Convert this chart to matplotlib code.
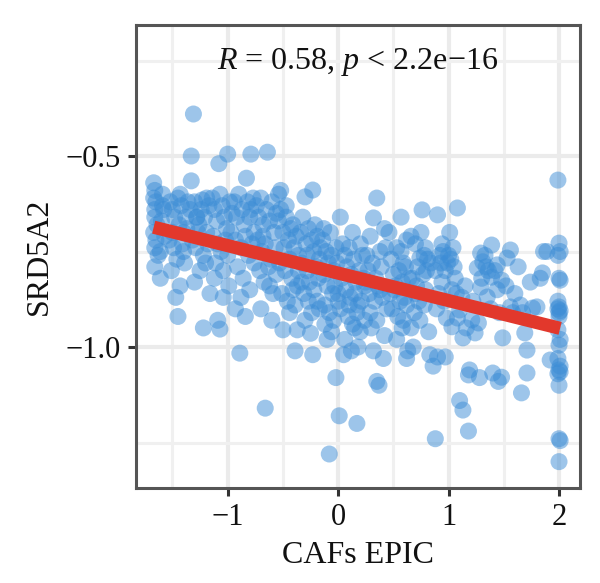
import numpy as np
import matplotlib
matplotlib.use("Agg")
import matplotlib.pyplot as plt
from matplotlib.ticker import MultipleLocator

# ---- data ----
left_x = [-1.67,-1.66,-1.67,-1.65,-1.66,-1.66,-1.64,-1.67,-1.65,-1.66,-1.63,-1.66,-1.61,-1.59,-1.58,-1.60,-1.57,-1.61,-1.59,
          -1.52,-1.50,-1.48,-1.45,-1.44,-1.42,-1.40,-1.38,-1.53,-1.49,-1.46,-1.41,-1.37,-1.51,-1.47,-1.43,-1.39,-1.36,-1.45,-1.50,-1.43,-1.40,
          -1.31,-1.33,-1.33,-1.23,-1.34,-1.30,-1.28,-1.26,-1.24,-1.21,-1.19,-1.17,-1.32,-1.29,-1.27,-1.22,-1.18,-1.25,-1.20,-1.30,-1.22,-1.16,-1.28,-1.19,
          -1.08,-1.00,-1.14,-1.12,-1.10,-1.07,-1.05,-1.03,-1.01,-0.98,-0.96,-1.13,-1.09,-1.06,-1.02,-0.97,-1.11,-1.04,-1.00,-1.09,-1.07,-1.04,-0.99,-1.12]
left_y = [-0.57,-0.59,-0.61,-0.62,-0.64,-0.66,-0.68,-0.70,-0.72,-0.74,-0.76,-0.79,-0.82,-0.60,-0.64,-0.67,-0.71,-0.75,-0.63,
          -0.62,-0.64,-0.66,-0.61,-0.68,-0.63,-0.70,-0.66,-0.72,-0.74,-0.77,-0.73,-0.69,-0.80,-0.87,-0.84,-0.78,-0.62,-0.92,-0.70,-0.60,-0.75,
          -0.39,-0.50,-0.565,-0.615,-0.64,-0.62,-0.66,-0.68,-0.64,-0.66,-0.70,-0.63,-0.72,-0.74,-0.70,-0.76,-0.73,-0.80,-0.78,-0.83,-0.95,-0.86,-0.66,-0.61,
          -0.52,-0.495,-0.61,-0.64,-0.67,-0.60,-0.63,-0.66,-0.69,-0.62,-0.65,-0.71,-0.73,-0.75,-0.72,-0.70,-0.78,-0.80,-0.76,-0.93,-0.953,-0.87,-0.84,-0.82]

midleft_x = [-0.79,-0.83,-0.89,-0.94,-0.92,-0.90,-0.87,-0.85,-0.82,-0.80,-0.77,-0.76,-0.93,-0.88,-0.84,-0.81,-0.78,-0.91,-0.86,-0.80,-0.76,-0.93,-0.84,-0.88,-0.79,
             -0.64,-0.66,-0.54,-0.74,-0.72,-0.70,-0.68,-0.65,-0.62,-0.60,-0.58,-0.56,-0.73,-0.69,-0.66,-0.61,-0.57,-0.71,-0.67,-0.63,-0.59,-0.70,-0.60,-0.68,-0.62,-0.56,
             -0.52,-0.52,-0.41,-0.50,-0.37,-0.39,-0.54,-0.50,-0.47,-0.45,-0.43,-0.40,-0.38,-0.36,-0.53,-0.48,-0.44,-0.42,-0.37,-0.51,-0.46,-0.41,-0.36,-0.49,-0.44,-0.39,-0.47,
             -0.23,-0.30,-0.21,-0.25,-0.23,-0.34,-0.32,-0.29,-0.27,-0.24,-0.22,-0.19,-0.17,-0.16,-0.33,-0.28,-0.26,-0.20,-0.18,-0.31,-0.27,-0.22,-0.17,-0.30,-0.24,-0.19,-0.33,-0.28]
midleft_y = [-0.495,-0.558,-1.016,-0.62,-0.66,-0.60,-0.64,-0.68,-0.62,-0.66,-0.61,-0.70,-0.72,-0.74,-0.71,-0.76,-0.73,-0.79,-0.82,-0.85,-0.78,-0.90,-0.92,-0.87,-0.64,
             -0.49,-1.16,-0.60,-0.63,-0.66,-0.61,-0.68,-0.64,-0.67,-0.62,-0.70,-0.65,-0.72,-0.75,-0.73,-0.77,-0.74,-0.80,-0.83,-0.79,-0.86,-0.90,-0.93,-0.71,-0.84,-0.81,
             -0.59,-0.64,-0.68,-0.955,-0.955,-1.01,-0.67,-0.70,-0.66,-0.72,-0.69,-0.74,-0.71,-0.76,-0.78,-0.80,-0.77,-0.82,-0.84,-0.86,-0.88,-0.85,-0.80,-0.74,-0.91,-0.89,-0.63,
             -0.589,-0.607,-0.68,-0.964,-1.02,-0.70,-0.66,-0.73,-0.69,-0.72,-0.75,-0.71,-0.77,-0.74,-0.78,-0.80,-0.83,-0.79,-0.82,-0.86,-0.88,-0.85,-0.90,-0.93,-0.91,-0.88,-0.83,-0.76]

mid_x = [-0.02,0.01,-0.08,0.02,-0.07,0.04,-0.12,0.05,-0.14,-0.11,-0.09,-0.06,-0.04,-0.01,0.03,-0.13,-0.10,-0.05,-0.03,0.00,-0.12,-0.08,-0.04,0.02,-0.10,-0.06,0.00,-0.02,-0.13,
         0.17,0.13,0.20,0.06,0.08,0.10,0.12,0.14,0.16,0.19,0.22,0.24,0.07,0.11,0.15,0.18,0.21,0.23,0.09,0.13,0.17,0.20,0.24,0.06,0.12,0.18,0.10,0.15,
         0.35,0.32,0.35,0.37,0.29,0.38,0.26,0.42,0.30,0.32,0.41,0.27,0.31,0.34,0.39,0.43,0.28,0.33,0.36,0.40,0.44,0.29,0.35,0.42,0.38,0.25,
         0.62,0.57,0.53,0.59,0.59,0.53,0.63,0.46,0.48,0.50,0.55,0.58,0.61,0.64,0.47,0.51,0.56,0.60,0.49,0.54,0.58,0.62,0.52,0.57]
mid_y = [-1.08,-1.18,-1.28,-0.66,-0.70,-0.73,-0.94,-1.02,-0.72,-0.75,-0.78,-0.76,-0.80,-0.78,-0.82,-0.81,-0.84,-0.86,-0.84,-0.88,-0.89,-0.91,-0.93,-0.90,-0.98,-0.96,-0.86,-0.74,-0.69,
         -1.20,-0.70,-0.73,-0.76,-0.79,-0.74,-0.81,-0.77,-0.83,-0.80,-0.76,-0.84,-0.85,-0.87,-0.86,-0.89,-0.88,-0.82,-0.92,-0.94,-0.91,-0.96,-0.93,-0.98,-1.01,-1.00,-0.89,-0.95,
         -0.61,-0.662,-1.09,-1.10,-0.71,-0.75,-0.76,-0.69,-0.95,-1.01,-1.03,-0.80,-0.78,-0.82,-0.79,-0.74,-0.86,-0.88,-0.84,-0.87,-0.90,-0.91,-0.93,-0.97,-0.85,-0.83,
         -0.72,-0.75,-0.74,-0.78,-0.93,-0.98,-1.01,-0.70,-0.77,-0.81,-0.80,-0.83,-0.79,-0.82,-0.86,-0.85,-0.88,-0.87,-0.90,-0.92,-0.95,-0.89,-0.84,-0.66]

right_x = [0.76,0.74,0.68,0.62,0.83,0.79,0.81,0.79,0.66,0.70,0.72,0.75,0.78,0.67,0.71,0.73,0.77,0.80,0.69,0.74,0.78,0.82,0.70,0.84,0.66,
           0.90,1.08,1.01,0.94,1.04,0.97,0.88,1.06,0.98,1.08,1.03,0.90,0.86,0.88,0.97,0.92,0.95,0.99,1.02,0.93,1.00,1.05,0.91,0.96,1.03,0.89,0.94,
           1.10,1.13,1.18,1.19,1.21,1.24,1.13,1.10,1.18,1.15,1.12,1.22,1.07,1.16,
           1.39,1.29,1.31,1.44,1.26,1.39,1.36,1.48,1.44,1.29,1.35,1.27,1.49,1.40,1.48,1.45,1.28,1.33,1.42,1.38,1.46,1.30,1.34,
           1.56,1.53,1.63,1.85,1.86,1.83,1.89,1.65,1.67,1.76,1.56,1.69,1.71,1.71,1.66,1.92,1.58,1.60,1.74,1.80,1.52]
right_y = [-0.641,-0.767,-1.00,-1.03,-1.02,-0.74,-0.77,-0.85,-0.71,-0.73,-0.79,-0.70,-0.76,-0.82,-0.84,-0.88,-0.81,-0.80,-0.91,-0.93,-0.89,-0.96,-0.86,-0.78,-0.95,
           -0.654,-0.636,-0.70,-0.73,-0.74,-0.80,-0.80,-0.82,-0.924,-0.924,-0.947,-1.026,-1.05,-1.24,-1.026,-0.76,-0.75,-0.78,-0.77,-0.78,-0.76,-0.79,-0.86,-0.88,-0.85,-0.90,-0.83,
           -1.14,-1.165,-1.22,-1.06,-0.929,-0.963,-0.976,-0.903,-1.073,-0.84,-0.87,-0.88,-0.86,-0.95,
           -0.733,-0.754,-0.777,-0.785,-0.793,-0.817,-0.80,-0.825,-0.85,-0.843,-0.869,-0.937,-0.976,-1.068,-1.079,-1.09,-1.08,-0.76,-0.80,-0.90,-0.91,-0.82,-0.79,
           -0.746,-0.767,-0.79,-0.806,-0.75,-0.82,-0.75,-0.89,-0.91,-0.898,-0.895,-0.963,-1.008,-1.068,-1.12,-1.034,-0.91,-0.86,-0.83,-0.895,-0.84]

edge_x = [1.99,2.00,2.01,1.99,2.00,2.01,1.99,2.00,2.01,2.00,1.99,2.01,2.00,1.99,2.01,2.00,1.99,2.00,2.00,2.01,2.00,1.99,2.00,2.01]
edge_y = [-0.563,-0.728,-0.75,-0.76,-0.82,-0.825,-0.88,-0.895,-0.905,-0.92,-0.955,-0.98,-0.995,-1.03,-1.05,-1.06,-1.07,-1.10,-1.24,-1.245,-1.30,-0.90,-0.91,-1.065]

x_label = "CAFs EPIC"
y_label = "SRD5A2"
x_ticks = [-1, 0, 1, 2]
y_ticks = [-1.0, -0.5]
y_tick_labels = ["\u22121.0", "\u22120.5"]
x_tick_labels = ["\u22121", "0", "1", "2"]
annotation = r"$R$ = 0.58, $p$ < 2.2e" + "\u221216"

x = np.array(left_x + midleft_x + mid_x + right_x + edge_x)
y = np.array(left_y + midleft_y + mid_y + right_y + edge_y)

# ---- figure ----
plt.rcParams['font.family'] = ['Liberation Serif', 'DejaVu Serif']
plt.rcParams['mathtext.fontset'] = 'custom'
plt.rcParams['mathtext.it'] = 'Liberation Serif:italic'
plt.rcParams['mathtext.rm'] = 'Liberation Serif'
fig = plt.figure(figsize=(6.0, 5.83), dpi=100)
ax = fig.add_axes([136/600, 1-488/583, (580-136)/600, (488-25)/583])

ax.set_xlim(-1.83, 2.19)
ax.set_ylim(-1.369, -0.157)

ax.xaxis.set_minor_locator(MultipleLocator(0.5))
ax.yaxis.set_minor_locator(MultipleLocator(0.25))
ax.set_xticks(x_ticks)
ax.set_xticklabels(x_tick_labels)
ax.set_yticks(y_ticks)
ax.set_yticklabels(y_tick_labels)
ax.grid(which='major', color='#EBEBEB', lw=3.0, zorder=0)
ax.grid(which='minor', color='#F0F0F0', lw=2.2, zorder=0)
ax.set_axisbelow(True)

ax.scatter(x, y, s=150, color='#3C8DD6', alpha=0.5, edgecolors='none', zorder=2)

coef = np.polyfit(x, y, 1)
xl = np.array([x.min(), x.max()])
ax.plot(xl, np.polyval(coef, xl), color='#E2382C', lw=9.5, solid_capstyle='butt', zorder=3)

for s in ax.spines.values():
    s.set_color('#555555')
    s.set_linewidth(2.2)

ax.tick_params(which='major', length=6, width=2.2, color='#333333', labelsize=22,
               labelcolor='#111111', pad=5)
ax.tick_params(which='minor', length=0)

ax.set_xlabel(x_label, fontsize=23, color='#111111', labelpad=6)
ax.set_ylabel(y_label, fontsize=23, color='#111111', labelpad=8)

ax.text(0.5, 0.955, annotation, transform=ax.transAxes, ha='center', va='top',
        fontsize=23, color='#111111')

fig.savefig("out.png", dpi=100)
